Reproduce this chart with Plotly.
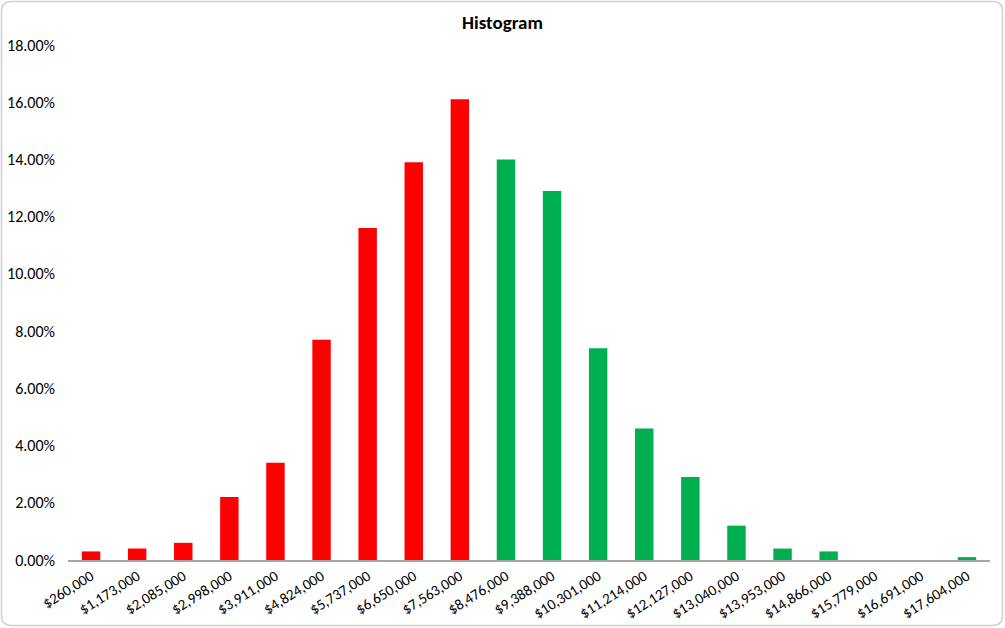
import plotly.graph_objects as go

bins = ["$260,000", "$1,173,000", "$2,085,000", "$2,998,000", "$3,911,000",
        "$4,824,000", "$5,737,000", "$6,650,000", "$7,563,000", "$8,476,000",
        "$9,388,000", "$10,301,000", "$11,214,000", "$12,127,000", "$13,040,000",
        "$13,953,000", "$14,866,000", "$15,779,000", "$16,691,000", "$17,604,000"]
share = [0.003, 0.004, 0.006, 0.022, 0.034, 0.077, 0.116, 0.139, 0.161, 0.140,
         0.129, 0.074, 0.046, 0.029, 0.012, 0.004, 0.003, 0.0, 0.0, 0.001]
n_red = 9  # bins below the median get red

colors = ["#FF0000" if i < n_red else "#00B050" for i in range(len(bins))]

fig = go.Figure(go.Bar(x=bins, y=share, marker_color=colors, marker_line_width=0))

W, H = 1005, 628
ml, mr, mt, mb = 68, 15, 45, 68
pw, ph = W - ml - mr, H - mt - mb

def px(x):
    return (x - ml) / pw

def py(y):
    return (H - mb - y) / ph

# rounded frame around the whole chart
x0, x1, y0, y1, r = 1.5, W - 2.5, 1.5, H - 2.5, 10
path = (f"M {px(x0 + r)},{py(y0)} L {px(x1 - r)},{py(y0)} "
        f"Q {px(x1)},{py(y0)} {px(x1)},{py(y0 + r)} L {px(x1)},{py(y1 - r)} "
        f"Q {px(x1)},{py(y1)} {px(x1 - r)},{py(y1)} L {px(x0 + r)},{py(y1)} "
        f"Q {px(x0)},{py(y1)} {px(x0)},{py(y1 - r)} L {px(x0)},{py(y0 + r)} "
        f"Q {px(x0)},{py(y0)} {px(x0 + r)},{py(y0)} Z")

fig.update_layout(
    width=W, height=H,
    margin=dict(l=ml, r=mr, t=mt, b=mb, autoexpand=False),
    paper_bgcolor="white", plot_bgcolor="white",
    font=dict(family="Carlito, Lato, sans-serif", size=15, color="#000000"),
    title=dict(text="<b>Histogram</b>", x=0.5, xref="container", y=1 - 22 / H,
               yref="container", yanchor="middle", font=dict(size=19)),
    bargap=0.6,
    showlegend=False,
    shapes=[dict(type="path", path=path, xref="paper", yref="paper",
                 line=dict(color="#D0D0D0", width=1.5), layer="below")],
)
fig.update_xaxes(tickangle=-32, showline=True, linecolor="#A6A6A6", linewidth=1.5,
                 showgrid=False, ticks="", tickfont=dict(size=15), automargin=False)
fig.update_yaxes(range=[0, 0.18], dtick=0.02, tickformat=".2%", showgrid=False,
                 zeroline=False, showline=False, ticks="", tickfont=dict(size=16),
                 ticklabelstandoff=12, automargin=False)

# the page body has a default margin; drop it so the chart sits at the corner
fig.write_html("out.html", config={"displayModeBar": False},
               post_script="document.body.style.margin='0';")
